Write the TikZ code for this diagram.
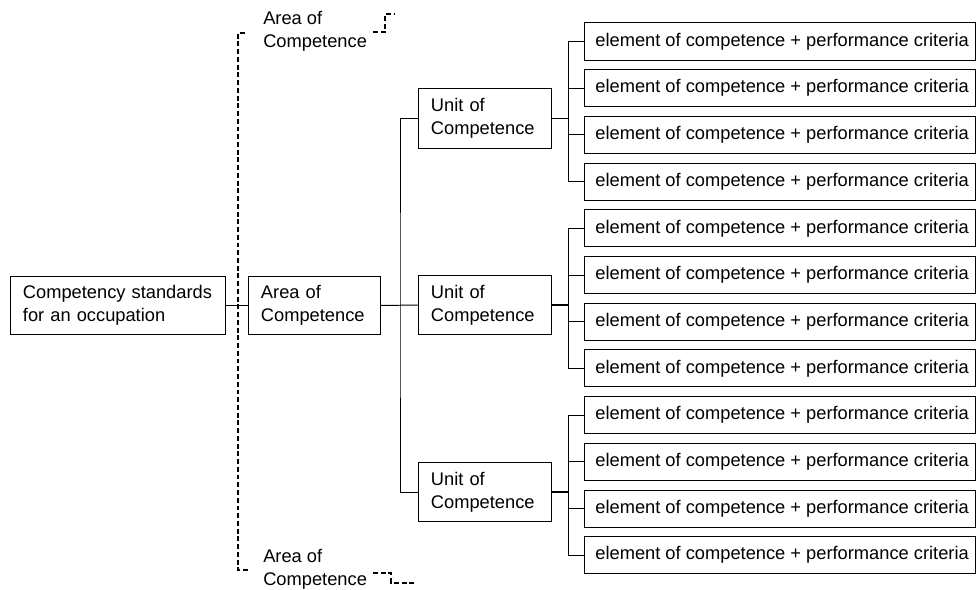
\documentclass[tikz,border=0pt]{standalone}
\usepackage{fontspec}
\setmainfont{Liberation Sans}
\newcommand{\diafont}{\fontsize{13}{16.3}\selectfont}
\tikzset{
  box/.style={draw, line width=0.7pt, inner ysep=0pt, font=\diafont},
  textbox/.style={box, align=left, inner xsep=0.3cm},
  elembox/.style={box, minimum width=9.75cm, minimum height=0.925cm},
  link/.style={line width=0.7pt},
  biglink/.style={line width=1.2pt},
  bracket/.style={line width=1.2pt, dash pattern=on 3.5pt off 2pt},
}
\begin{document}
\begin{tikzpicture}[x=0.025cm,y=-0.025cm]
    \useasboundingbox (0,0) rectangle (976,590);
    % --- occupation and the one area shown in full
    \node[textbox, text width=4.75cm, minimum height=1.425cm] (occ) at (118,305.5) {Competency standards\\for an occupation};
    \node[textbox, text width=2.675cm, minimum height=1.425cm] (area) at (314.5,305.5) {Area of\\Competence};
    % --- the other areas, only hinted
    \node[font=\diafont, align=left, inner sep=0pt, anchor=west] (areaT) at (263,31) {Area of\\Competence};
    \node[font=\diafont, align=left, inner sep=0pt, anchor=west] (areaB) at (263,569) {Area of\\Competence};
    \draw[bracket] (245,33) -- (238,33) coordinate (brT) -- (238,570) coordinate (brB) -- (250,570);
    \draw[bracket] (373,32) -- (385,32) -- (385,14) -- (395,14);
    \draw[bracket] (373,573) -- (391,573) -- (391,583) -- (415,583);
    % --- units
    \foreach \u/\y in {1/118.5, 2/305, 3/492} {
      \node[textbox, text width=2.7cm, minimum height=1.475cm] (unit\u) at (485,\y) {Unit of\\Competence};
    }
    % --- elements
    \foreach \k in {0,...,11} {
      \pgfmathsetmacro{\yy}{41.5+46.7*\k}
      \node[elembox] (elem\k) at (780,\yy) {\hspace*{3pt}element of competence + performance criteria};
    }
    % --- links
    \draw[link] (occ.east) -- (area.west);
    \draw[link] (area.east) -- (unit2.west);
    \coordinate (fork) at (400,305);
    \draw[link] (unit1.west) -| (fork) |- (unit3.west);
    \foreach \u/\a in {1/0, 2/4, 3/8} {
      \path (unit\u.east) ++(17,0) coordinate (bus\u);
      \draw[biglink] (unit\u.east) -- (bus\u);
      \foreach \j in {0,...,3} {
        \pgfmathtruncatemacro{\e}{\a+\j}
        \draw[link] (bus\u) |- (elem\e.west);
      }
    }
\end{tikzpicture}
\end{document}
